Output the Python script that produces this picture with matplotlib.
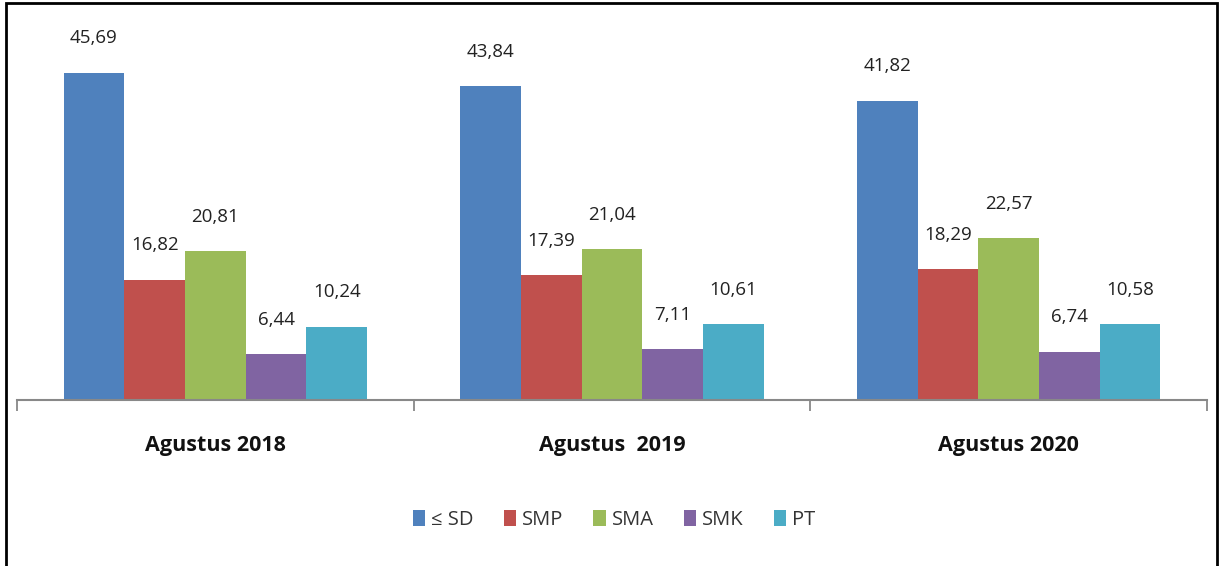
#!/usr/bin/env python3

import numpy as np
import matplotlib.pyplot as plt
from matplotlib.patches import Rectangle


periods = ["Agustus 2018", "Agustus  2019", "Agustus 2020"]
levels = ["\u2264 SD", "SMP", "SMA", "SMK", "PT"]
val_sd = [45.69, 43.84, 41.82]
val_smp = [16.82, 17.39, 18.29]
val_sma = [20.81, 21.04, 22.57]
val_smk = [6.44, 7.11, 6.74]
val_pt = [10.24, 10.61, 10.58]
colors = ["#4F81BD", "#C0504D", "#9BBB59", "#8064A2", "#4BACC6"]


def main():
    W, H = 1219, 566
    fig = plt.figure(figsize=(W / 100, H / 100), dpi=100)
    plt.rcParams["font.family"] = ["Open Sans", "DejaVu Sans"]

    # axes box in pixel coords: x 17..1207, baseline at y=400
    ymax = 50
    px_per_unit = 7.16
    top = 400 - ymax * px_per_unit
    ax = fig.add_axes([17 / W, 1 - 400 / H, 1190 / W, (400 - top) / H])

    series = [val_sd, val_smp, val_sma, val_smk, val_pt]
    x = np.arange(len(periods))
    width = 0.153
    offsets = (np.arange(len(series)) - 2) * width

    for i, vals in enumerate(series):
        bars = ax.bar(x + offsets[i], vals, width, color=colors[i], label=levels[i])
        for b, v in zip(bars, vals):
            ax.text(b.get_x() + b.get_width() / 2, v + 4.8, ("%.2f" % v).replace(".", ","),
                    ha="center", va="center", fontsize=13.5, color="#222222")

    ax.set_xlim(-0.5, 2.5)
    ax.set_ylim(0, ymax)
    for s in ["top", "left", "right"]:
        ax.spines[s].set_visible(False)
    ax.spines["bottom"].set_color("#888888")
    ax.spines["bottom"].set_linewidth(1.5)
    ax.set_yticks([])

    # boundary ticks between categories
    ax.set_xticks([-0.5, 0.5, 1.5, 2.5])
    ax.set_xticklabels([])
    ax.tick_params(axis="x", length=8, width=1.3, color="#888888")
    for xi, name in zip(x, periods):
        ax.text(xi, -6.4, name, ha="center", va="center", fontsize=15.5,
                fontweight="bold", color="#111111")

    ax.legend(loc="center", bbox_to_anchor=(614 / W, 1 - 520 / H),
              bbox_transform=fig.transFigure, ncol=5, frameon=False,
              fontsize=14.5, handlelength=0.6, handleheight=0.8,
              handletextpad=0.3, columnspacing=1.5, labelcolor="#333333")

    fig.patches.append(Rectangle((6 / W, -0.01), 1211 / W, 1 - 3 / H + 0.01,
                                 transform=fig.transFigure, fill=False,
                                 edgecolor="black", linewidth=2))

    plt.savefig("out.png", dpi=100)

    return 0


if __name__ == '__main__':
    main()
